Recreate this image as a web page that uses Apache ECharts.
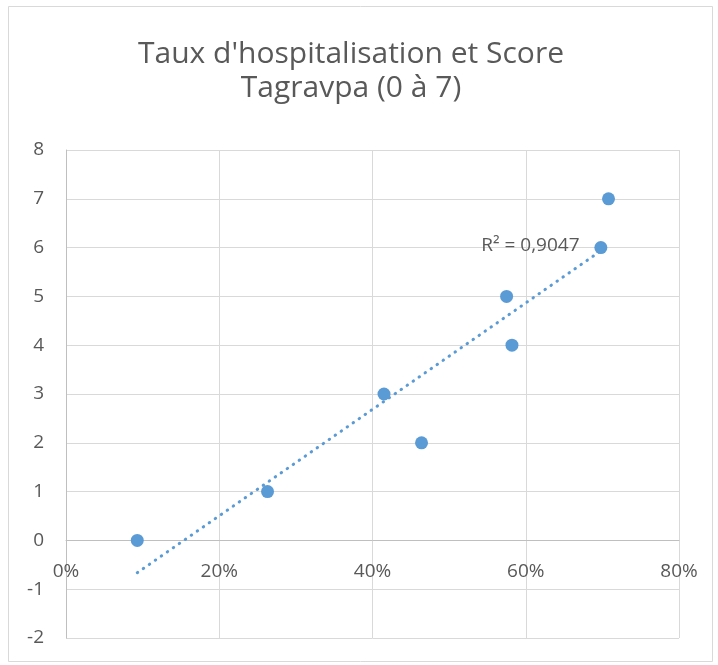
<!DOCTYPE html>
<html>
<head>
<meta charset="utf-8">
<script src="https://cdn.jsdelivr.net/npm/echarts@6/dist/echarts.min.js"></script>
<style>
html,body{margin:0;padding:0;background:#fff;}
#c{width:718px;height:665px;}
</style>
</head>
<body>
<div id="c"></div>
<script>
// Data (x: hospitalisation rate in %, y: Tagravpa score)
const hospRate = [9.3, 26.3, 41.5, 46.4, 57.5, 58.2, 69.8, 70.8];
const scores   = [0, 1, 3, 2, 5, 4, 6, 7];
const titleLines = ["Taux d'hospitalisation et Score", "Tagravpa (0 à 7)"];
const r2Text = "R² = 0,9047";
const xTicks = { min: 0, max: 80, step: 20 };
const yTicks = { min: -2, max: 8, step: 1 };

// linear regression for trendline
const n = hospRate.length;
const mx = hospRate.reduce((a, b) => a + b, 0) / n;
const my = scores.reduce((a, b) => a + b, 0) / n;
let sxy = 0, sxx = 0;
for (let i = 0; i < n; i++) {
  sxy += (hospRate[i] - mx) * (scores[i] - my);
  sxx += (hospRate[i] - mx) * (hospRate[i] - mx);
}
const slope = sxy / sxx;
const icpt = my - slope * mx;
const xMin = Math.min(...hospRate), xMax = Math.max(...hospRate);
const trend = [[xMin, icpt + slope * xMin], [xMax, icpt + slope * xMax]];

const FONT = "'Open Sans'";
const GREY = '#595959';
const BLUE = '#5B9BD5';

const W = 718, H = 665;
const GRID = { left: 66, right: 39, top: 150, bottom: 27 };
const plotH = H - GRID.top - GRID.bottom;
// place the horizontal axis where y = 0 (crossing point, as in the original)
const xAxisOffset = -plotH * (0 - yTicks.min) / (yTicks.max - yTicks.min);

const chart = echarts.init(document.getElementById('c'), null, { renderer: 'canvas' });
chart.setOption({
  backgroundColor: '#fff',
  animation: false,
  title: {
    text: titleLines.join('\n'),
    left: 346,
    top: 32,
    textAlign: 'center',
    textStyle: { fontFamily: FONT, fontSize: 30, fontWeight: 'normal', color: GREY, lineHeight: 34 }
  },
  graphic: [{
    type: 'rect',
    shape: { x: 8.5, y: 6.5, width: 704, height: 655 },
    style: { fill: 'none', stroke: '#d9d9d9', lineWidth: 1 },
    silent: true
  }],
  grid: { left: GRID.left, right: GRID.right, top: GRID.top, bottom: GRID.bottom, containLabel: false },
  xAxis: {
    type: 'value',
    position: 'bottom',
    offset: xAxisOffset,
    min: xTicks.min, max: xTicks.max, interval: xTicks.step,
    axisLine: { show: true, onZero: false, lineStyle: { color: '#bfbfbf', width: 1 } },
    axisTick: { show: false },
    axisLabel: { formatter: '{value}%', fontFamily: FONT, fontSize: 19, color: GREY, margin: 22 },
    splitLine: { show: true, lineStyle: { color: '#d9d9d9', width: 1 } }
  },
  yAxis: {
    type: 'value',
    min: yTicks.min, max: yTicks.max, interval: yTicks.step,
    axisLine: { show: true, onZero: false, lineStyle: { color: '#bfbfbf', width: 1 } },
    axisTick: { show: false },
    axisLabel: { fontFamily: FONT, fontSize: 19, color: GREY, margin: 22 },
    splitLine: { show: true, lineStyle: { color: '#d9d9d9', width: 1 } }
  },
  series: [
    {
      type: 'line',
      data: trend,
      showSymbol: false,
      symbol: 'none',
      z: 2,
      lineStyle: { color: BLUE, width: 3, type: [0.5, 6.8], cap: 'round' },
      markPoint: {
        symbol: 'circle',
        symbolSize: 0,
        data: [{ coord: trend[1] }],
        label: {
          show: true, position: 'left', distance: 29,
          formatter: r2Text,
          fontFamily: FONT, fontSize: 19, color: GREY
        }
      }
    },
    {
      type: 'scatter',
      data: hospRate.map((x, i) => [x, scores[i]]),
      symbolSize: 13,
      z: 3,
      itemStyle: { color: BLUE, opacity: 1 }
    }
  ]
});
</script>
</body>
</html>
